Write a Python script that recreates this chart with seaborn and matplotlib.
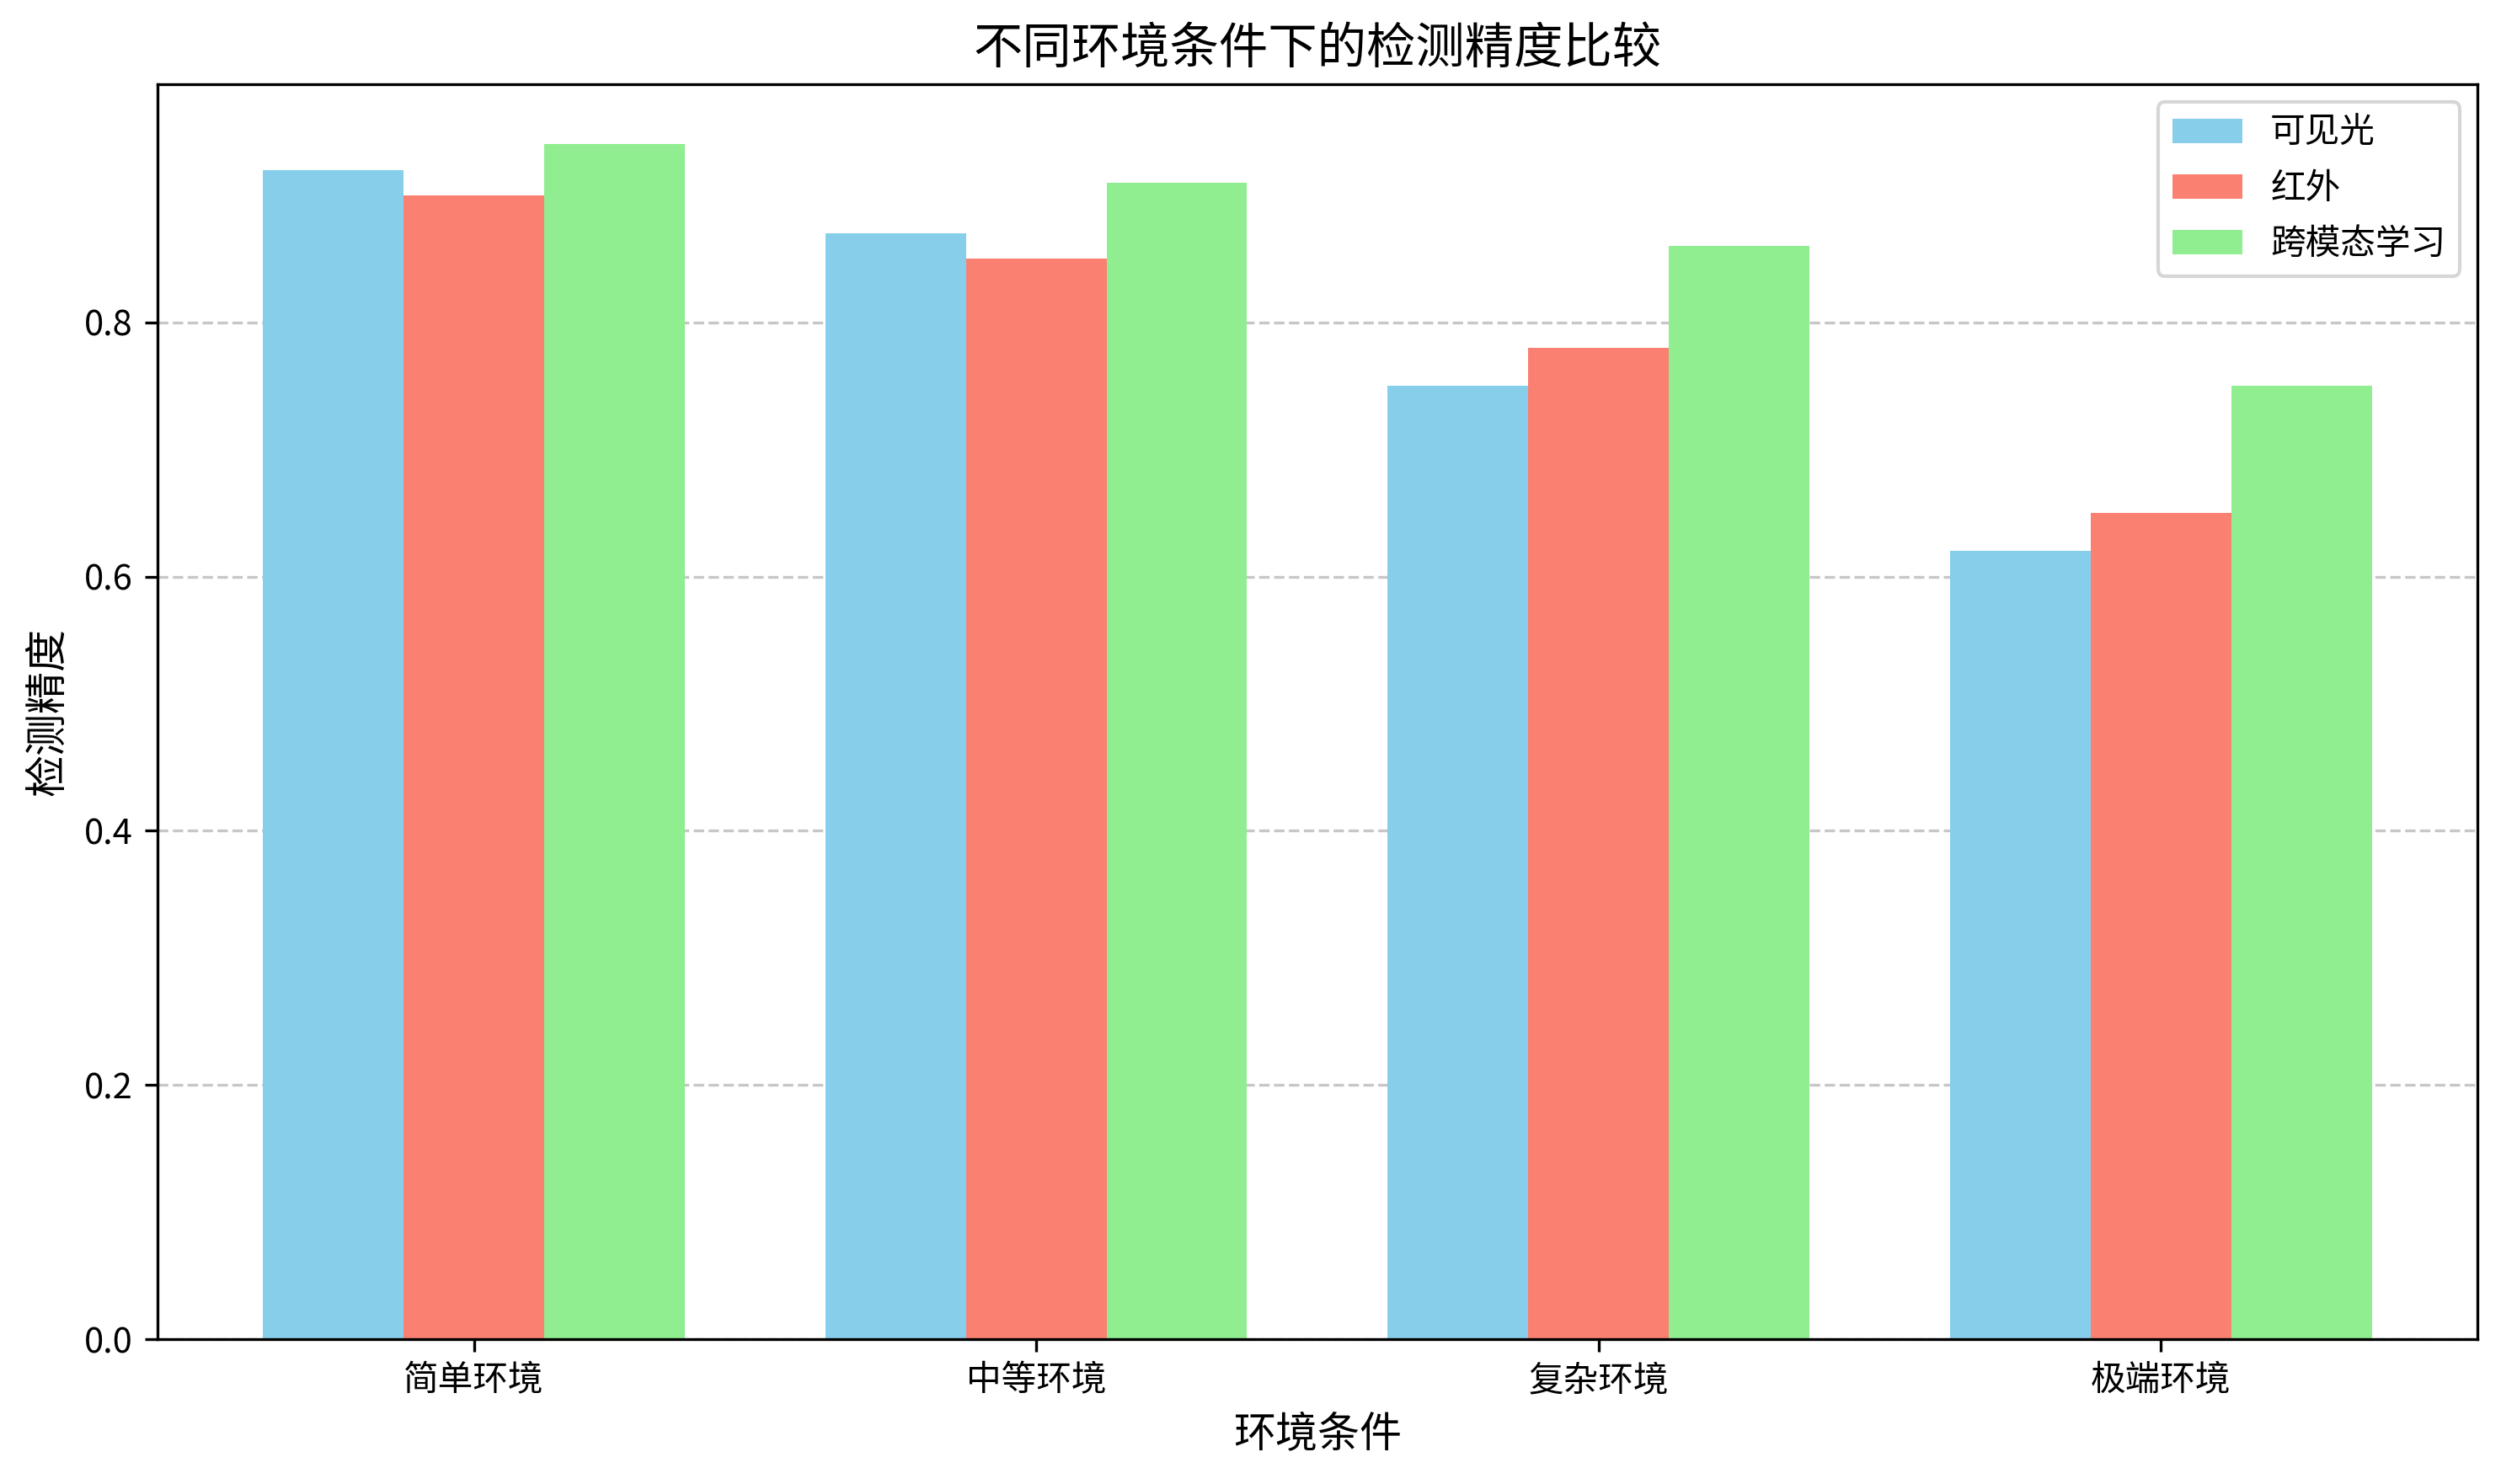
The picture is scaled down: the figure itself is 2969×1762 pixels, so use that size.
import pandas as pd
import matplotlib
matplotlib.use("Agg")
import matplotlib.pyplot as plt
import seaborn as sns

# 数据
environments = ['简单环境', '中等环境', '复杂环境', '极端环境']
modalities = ['可见光', '红外', '跨模态学习']
visible = [0.92, 0.87, 0.75, 0.62]
infrared = [0.90, 0.85, 0.78, 0.65]
cross_modal = [0.94, 0.91, 0.86, 0.75]
colors = ['skyblue', 'salmon', 'lightgreen']

df = pd.DataFrame({
    '环境条件': environments * 3,
    '模态': [m for m in modalities for _ in environments],
    '检测精度': visible + infrared + cross_modal,
})

plt.rcParams['font.family'] = ['Noto Sans CJK SC', 'DejaVu Sans']
plt.rcParams['axes.unicode_minus'] = False

fig = plt.figure(figsize=(2969 / 300, 1762 / 300), dpi=300)
ax = fig.add_axes([0.063, 0.0976, 0.9275, 0.8454])

sns.barplot(data=df, x='环境条件', y='检测精度', hue='模态', order=environments,
            hue_order=modalities, palette=colors, saturation=1, width=0.75,
            linewidth=0, errorbar=None, ax=ax)

ax.set_xlim(-0.5625, 3.5625)
ax.set_ylim(0, 0.987)
ax.set_title('不同环境条件下的检测精度比较', fontsize=14)
ax.set_xlabel('环境条件', fontsize=12)
ax.set_ylabel('检测精度', fontsize=12)
ax.tick_params(labelsize=10)
ax.yaxis.grid(True, linestyle='--', alpha=0.7)
ax.set_axisbelow(True)

handles, labels = ax.get_legend_handles_labels()
ax.legend(handles, labels, loc='upper right', fontsize=10, labelspacing=0.6)

fig.savefig('out.png', dpi=300)
